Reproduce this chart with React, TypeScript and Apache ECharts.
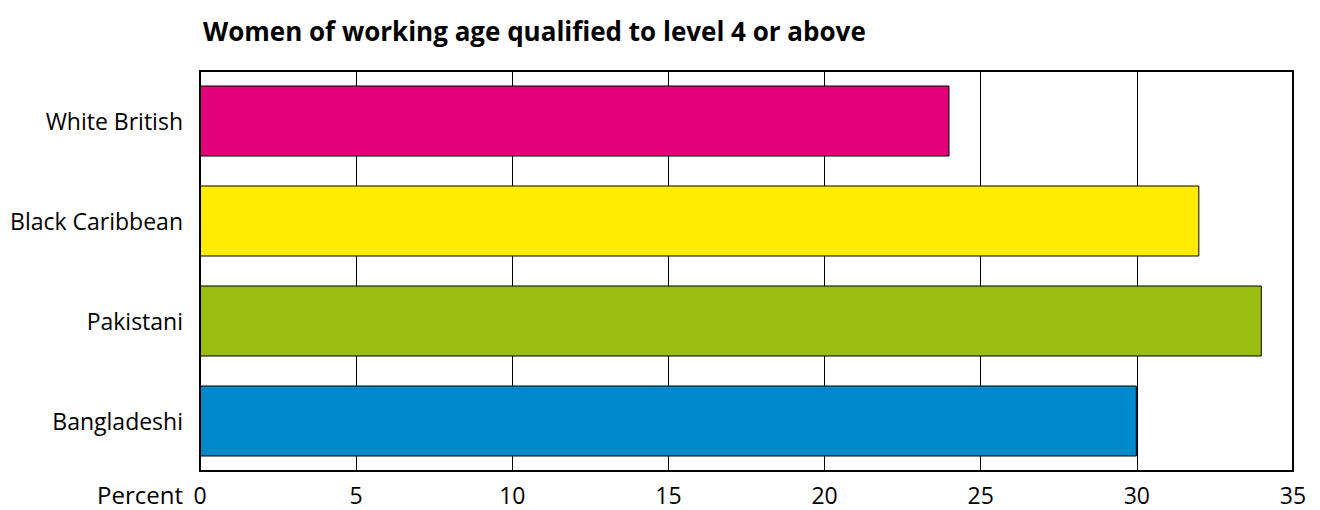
import React, { useEffect, useRef } from "react";
import * as echarts from "echarts";

const categories = ["White British", "Black Caribbean", "Pakistani", "Bangladeshi"];
const values = [24, 32, 34, 30];
const colors = ["#e2007a", "#ffec00", "#99bd10", "#0088cc"];
const title = "Women of working age qualified to level 4 or above";
const axisLabel = "Percent";

export default function App() {
  const ref = useRef<HTMLDivElement>(null);
  useEffect(() => {
    const chart = echarts.init(ref.current!, null, { renderer: "svg" });
    const font = "'Open Sans', Lato, sans-serif";
    chart.setOption({
      animation: false,
      title: {
        text: title,
        left: 198,
        top: 13,
        textStyle: { fontFamily: font, fontWeight: "bold", fontSize: 26, color: "#000" },
      },
      grid: {
        left: 200,
        right: 27,
        top: 71,
        bottom: 39,
        show: true,
        borderColor: "#000",
        borderWidth: 2,
        containLabel: false,
      },
      xAxis: {
        type: "value",
        min: 0,
        max: 35,
        interval: 5,
        axisLine: { show: false },
        axisTick: { show: false },
        splitLine: { show: true, lineStyle: { color: "#000", width: 1 } },
        axisLabel: { fontFamily: font, fontSize: 23, color: "#000", margin: 12 },
      },
      yAxis: {
        type: "category",
        data: categories,
        inverse: true,
        axisLine: { show: false },
        axisTick: { show: false },
        axisLabel: { fontFamily: font, fontSize: 23, color: "#000", margin: 17 },
      },
      graphic: [
        {
          type: "text",
          right: 1320 - 183,
          top: 482,
          style: { text: axisLabel, font: `24px ${font}`, fill: "#000" },
        },
      ],
      series: [
        {
          type: "bar",
          barWidth: 71,
          data: values.map((v, i) => ({
            value: v,
            itemStyle: { color: colors[i], borderColor: "#000", borderWidth: 1 },
          })),
        },
      ],
    });
    return () => chart.dispose();
  }, []);
  return (
    <div
      ref={ref}
      style={{ position: "absolute", left: 0, top: 0, width: 1320, height: 510 }}
    />
  );
}
